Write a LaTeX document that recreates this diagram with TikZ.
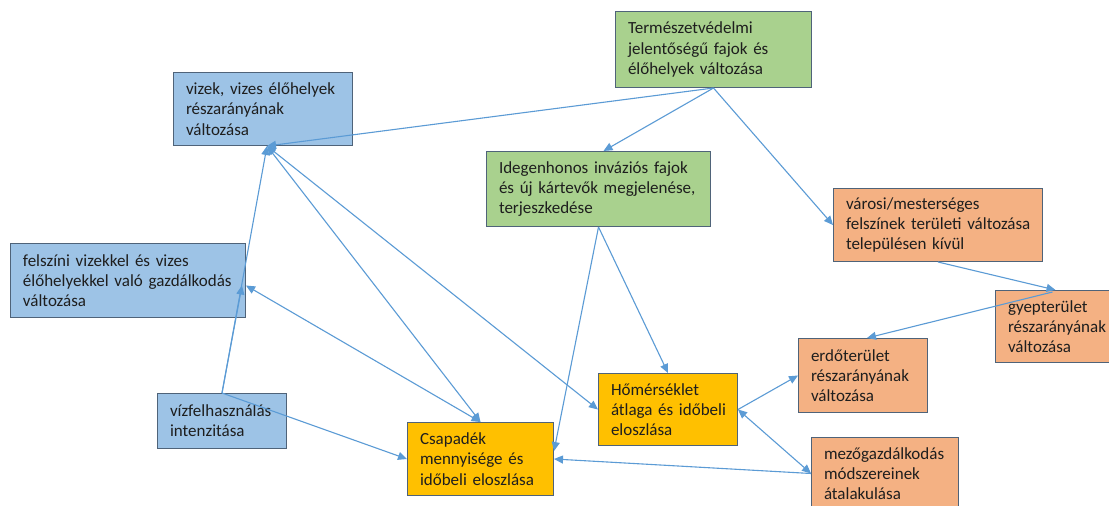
\documentclass[tikz,border=0pt]{standalone}
\usepackage{fontspec}
\setmainfont{Carlito}
\usetikzlibrary{arrows.meta}
\definecolor{bluefill}{HTML}{9DC3E6}
\definecolor{greenfill}{HTML}{A9D18E}
\definecolor{orangefill}{HTML}{F4B183}
\definecolor{goldfill}{HTML}{FFC000}
\definecolor{boxline}{HTML}{4F6379}
\definecolor{arr}{HTML}{5B9BD5}
\definecolor{txt}{HTML}{1E1E1E}
\newcommand{\bl}[1]{\mbox{#1}}
\begin{document}
\begin{tikzpicture}[x=1pt,y=-1pt,
  bx/.style={draw=boxline, line width=1pt, anchor=north west, inner xsep=12.5pt, inner ysep=0pt,
    align=left, font=\fontsize{17}{20.3}\selectfont, text=txt},
  con/.style={draw=arr, line width=1.1pt, -{Triangle[length=9pt,width=8pt]}},
  bicon/.style={draw=arr, line width=1.1pt, {Triangle[length=9pt,width=8pt]}-{Triangle[length=9pt,width=8pt]}}
]
\useasboundingbox (0,0) rectangle (1109,506);
\clip (0,0) rectangle (1109,506);
\fill[white] (0,0) rectangle (1109,506);

% boxes
\node[bx, fill=greenfill, text width=171pt, minimum height=76pt] (term) at (615,11)
  {\bl{Természetvédelmi}\\\bl{jelentőségű fajok és}\\\bl{élőhelyek változása}};
\node[bx, fill=bluefill, text width=154pt, minimum height=73pt] (vizek) at (173,72)
  {\bl{vizek, vizes élőhelyek}\\\bl{részarányának}\\\bl{változása}};
\node[bx, fill=greenfill, text width=199pt, minimum height=75pt] (idegen) at (486,151)
  {\bl{Idegenhonos inváziós fajok}\\\bl{és új kártevők megjelenése,}\\\bl{terjeszkedése}};
\node[bx, fill=orangefill, text width=184pt, minimum height=73pt] (varosi) at (833,188)
  {\bl{városi/mesterséges}\\\bl{felszínek területi változása}\\\bl{településen kívül}};
\node[bx, fill=bluefill, text width=210pt, minimum height=74pt] (felsz) at (10,243)
  {\bl{felszíni vizekkel és vizes}\\\bl{élőhelyekkel való gazdálkodás}\\\bl{változása}};
\node[bx, fill=bluefill, text width=104pt, minimum height=55pt] (vizf) at (157,393)
  {\bl{vízfelhasználás}\\\bl{intenzitása}};
\node[bx, fill=orangefill, text width=95pt, minimum height=72pt] (gyep) at (995,290)
  {\bl{gyepterület}\\\bl{részarányának}\\\bl{változása}};
\node[bx, fill=orangefill, text width=104pt, minimum height=74pt] (erdo) at (798,338)
  {\bl{erdőterület}\\\bl{részarányának}\\\bl{változása}};
\node[bx, fill=goldfill, text width=114pt, minimum height=72pt] (hom) at (598,373)
  {\bl{Hőmérséklet}\\\bl{átlaga és időbeli}\\\bl{eloszlása}};
\node[bx, fill=goldfill, text width=121pt, minimum height=73pt] (csap) at (407,422)
  {\bl{Csapadék}\\\bl{mennyisége és}\\\bl{időbeli eloszlása}};
\node[bx, fill=orangefill, text width=122pt, minimum height=72pt] (mezo) at (811,437)
  {\bl{mezőgazdálkodás}\\\bl{módszereinek}\\\bl{átalakulása}};

% connectors
\draw[con] (term.south) -- ([xshift=4pt]vizek.south);
\draw[con] (term.south) -- ([xshift=5pt]idegen.north);
\draw[con] (term.south) -- (varosi.west);
\draw[con] (varosi.south) -- (gyep.north);
\draw[con] ([xshift=-3pt,yshift=-2pt]gyep.north) -- ([xshift=4pt]erdo.north);
\draw[con] (hom.east) -- (erdo.west);
\draw[bicon] (hom.east) -- (mezo.west);
\draw[con] (mezo.west) -- (csap.east);
\draw[con] (idegen.south) -- ([yshift=8pt]csap.east);
\draw[con] (idegen.south) -- (hom.north);
\draw[bicon] ([xshift=4pt]vizek.south) -- (hom.west);
\draw[bicon] ([xshift=4pt]vizek.south) -- (csap.north);
\draw[con] (vizf.north) -- ([xshift=4pt]vizek.south);
\draw[con] (vizf.north) -- ([xshift=-4pt,yshift=-5pt]felsz.east);
\draw[bicon] (csap.north) -- ([yshift=-5pt]felsz.east);
\draw[con] (vizf.north) -- (csap.west);
\end{tikzpicture}
\end{document}
